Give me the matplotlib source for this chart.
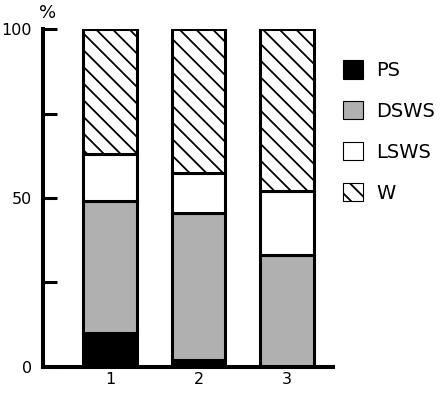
import matplotlib
matplotlib.use("Agg")
from matplotlib import pyplot as plt
from matplotlib.patches import Patch
import numpy as np

# data (percent of total)
groups = ["1", "2", "3"]
series = ["PS", "DSWS", "LSWS", "W"]
ps = [10, 2, 0]
dsws = [39, 43.5, 33]
lsws = [14, 12, 19]
w = [37, 42.5, 48]

colors = ["black", "#b0b0b0", "white", "white"]
hatches = [None, None, None, "\\\\"]

plt.rcParams["font.family"] = "DejaVu Sans"
plt.rcParams["hatch.linewidth"] = 1.3

fig = plt.figure(figsize=(4.46, 3.94), dpi=100)
ax = fig.add_axes([0.0964, 0.0693, 0.6496, 0.8563])

x = np.arange(1, len(groups) + 1)
bottom = np.zeros(len(groups))
for vals, col, hat in zip([ps, dsws, lsws, w], colors, hatches):
    ax.bar(x, vals, width=0.61, bottom=bottom, color=col, edgecolor="black",
           linewidth=2.2, hatch=hat, zorder=2)
    bottom += np.array(vals)

ax.set_xlim(0.24, 3.52)
ax.set_ylim(0, 100)
ax.set_xticks(x)
ax.set_xticklabels(groups)
ax.set_yticks([0, 50, 100])
ax.set_yticks([25, 75], minor=True)
ax.tick_params(axis="x", length=0, labelsize=11.5, pad=4)
ax.tick_params(axis="y", which="both", direction="in", length=10, width=2.2,
               labelsize=11.5, pad=8)

for s in ["top", "right"]:
    ax.spines[s].set_visible(False)
for s in ["left", "bottom"]:
    ax.spines[s].set_linewidth(2.9)

# the "%" unit above the y axis
ax.text(0.0155, 1.033, "%", transform=ax.transAxes, fontsize=13,
        ha="center", va="baseline")

handles = [Patch(facecolor=c, edgecolor="black", hatch=h, linewidth=0.8)
           for c, h in zip(colors, hatches)]
fig.legend(handles, series, loc="upper left", bbox_to_anchor=(0.769, 0.848),
           frameon=False, fontsize=14, handlelength=1.03, handleheight=1.1,
           handletextpad=0.7, labelspacing=1.08, borderpad=0, borderaxespad=0)

fig.savefig("out.png", dpi=100)
